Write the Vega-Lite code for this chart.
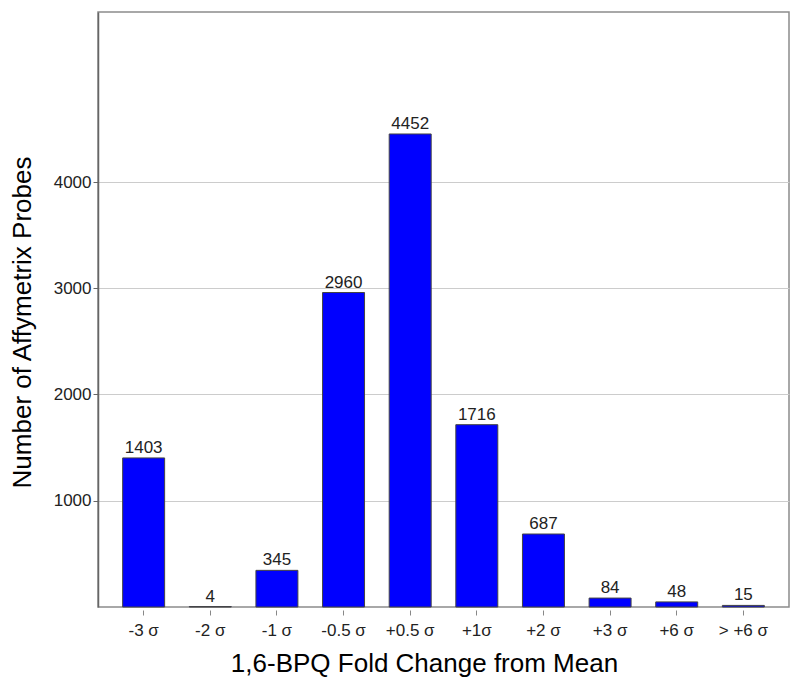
{
  "$schema": "https://vega.github.io/schema/vega-lite/v6.json",
  "autosize": "none",
  "width": 691,
  "height": 595,
  "padding": {"left": 98, "top": 12, "right": 11, "bottom": 87},
  "background": "white",
  "config": {
    "font": "Liberation Sans",
    "view": {"stroke": "#8c8c8c", "strokeWidth": 1.5}
  },
  "data": {
    "values": [
      {"bin": "-3 σ", "count": 1403},
      {"bin": "-2 σ", "count": 4},
      {"bin": "-1 σ", "count": 345},
      {"bin": "-0.5 σ", "count": 2960},
      {"bin": "+0.5 σ", "count": 4452},
      {"bin": "+1σ", "count": 1716},
      {"bin": "+2 σ", "count": 687},
      {"bin": "+3 σ", "count": 84},
      {"bin": "+6 σ", "count": 48},
      {"bin": "> +6 σ", "count": 15}
    ]
  },
  "encoding": {
    "x": {
      "field": "bin",
      "type": "nominal",
      "sort": null,
      "scale": {"paddingInner": 0.37, "paddingOuter": 0.37},
      "axis": {
        "title": "1,6-BPQ Fold Change from Mean",
        "titleFontSize": 26,
        "titleFontWeight": "normal",
        "titleColor": "#000",
        "titlePadding": 12,
        "titleX": 326,
        "labelAngle": 0,
        "labelFontSize": 17,
        "labelColor": "#222",
        "labelPadding": 7,
        "tickSize": 5,
        "tickColor": "#888",
        "offset": 3,
        "domain": false,
        "grid": false
      }
    },
    "y": {
      "field": "count",
      "type": "quantitative",
      "scale": {"domain": [0, 5600], "nice": false},
      "axis": {
        "title": "Number of Affymetrix Probes",
        "titleFontSize": 26,
        "titleFontWeight": "normal",
        "titleColor": "#000",
        "titlePadding": 18,
        "titleY": 310,
        "values": [1000, 2000, 3000, 4000],
        "format": "d",
        "labelFontSize": 17,
        "labelColor": "#222",
        "labelPadding": 2,
        "tickSize": 5,
        "tickColor": "#666",
        "domainColor": "#666",
        "domainWidth": 1.5,
        "gridColor": "#cccccc",
        "grid": true
      }
    }
  },
  "layer": [
    {
      "mark": {"type": "bar", "color": "#0000ff", "stroke": "#444", "strokeWidth": 1}
    },
    {
      "mark": {"type": "text", "baseline": "bottom", "dy": -1, "fontSize": 17, "color": "#222"},
      "encoding": {"text": {"field": "count", "type": "quantitative"}}
    }
  ]
}
